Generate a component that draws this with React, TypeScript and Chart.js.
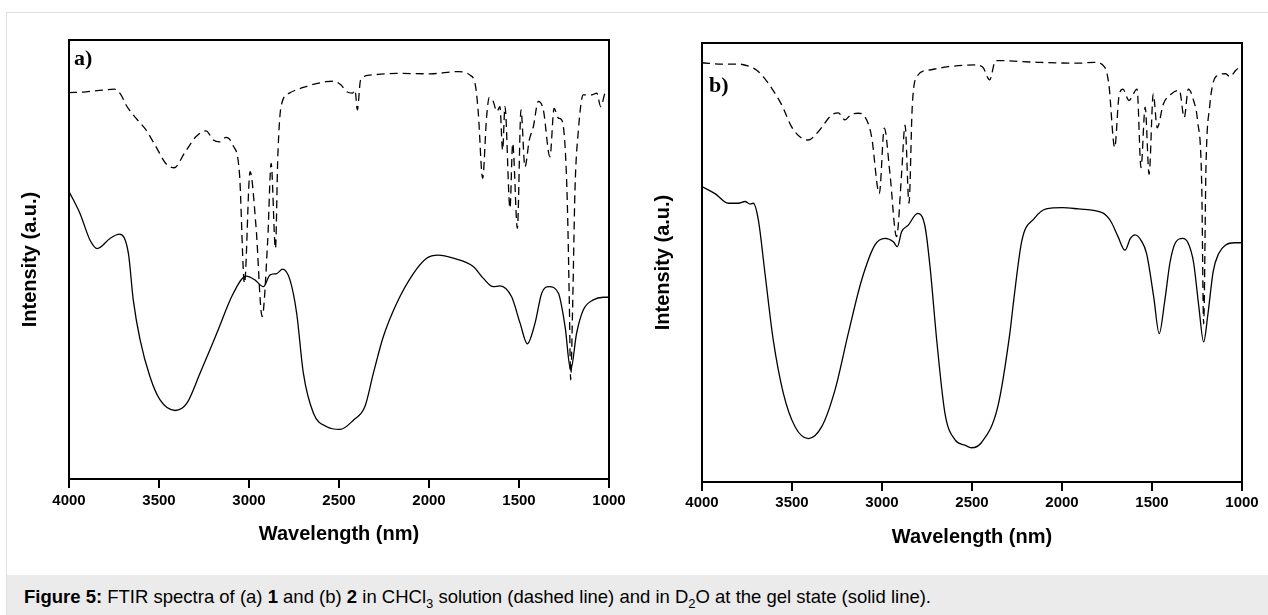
import React, { useEffect, useRef } from "react";
import { Chart, registerables } from "chart.js";

Chart.register(...registerables);

// ---------- data ----------
const xTicks = [4000, 3500, 3000, 2500, 2000, 1500, 1000];

// Panel a) dashed (CHCl3 solution)
const aDashX = [4000, 3906, 3813, 3748, 3711, 3683, 3628, 3572, 3517, 3461, 3415, 3359, 3294, 3239, 3198, 3164, 3127, 3090, 3053, 3025, 2994, 2961, 2927, 2896, 2877, 2853, 2840, 2822, 2776, 2683, 2572, 2530, 2490, 2457, 2424, 2411, 2398, 2380, 2328, 2180, 1994, 1837, 1772, 1741, 1726, 1702, 1680, 1665, 1643, 1624, 1606, 1591, 1578, 1550, 1535, 1509, 1489, 1467, 1443, 1420, 1393, 1365, 1328, 1305, 1281, 1263, 1244, 1231, 1220, 1213, 1202, 1189, 1170, 1143, 1096, 1068, 1046, 1022, 1000];
const aDashY = [88.0, 88.2, 88.6, 88.8, 87.5, 85.2, 82.2, 79.5, 75.7, 71.8, 70.9, 74.2, 78.0, 79.3, 77.2, 76.8, 77.8, 76.1, 69.6, 44.6, 70.0, 57.5, 37.0, 54.4, 71.9, 52.5, 73.4, 84.8, 87.9, 89.4, 90.5, 90.6, 89.8, 88.2, 87.9, 88.6, 84.1, 90.9, 92.0, 92.4, 92.3, 92.8, 92.0, 89.4, 83.3, 68.5, 82.5, 86.9, 86.0, 83.7, 84.8, 74.9, 84.8, 61.7, 76.5, 57.1, 84.1, 71.1, 77.2, 80.3, 86.0, 84.1, 73.4, 84.4, 82.2, 81.8, 75.7, 62.0, 39.3, 22.6, 39.3, 65.8, 79.5, 87.5, 87.5, 87.9, 84.8, 87.9, 88.6];

// Panel a) solid (D2O gel)
const aSolidX = [4000, 3939, 3883, 3843, 3772, 3720, 3670, 3643, 3605, 3550, 3494, 3411, 3346, 3272, 3179, 3087, 3016, 2966, 2920, 2883, 2846, 2813, 2772, 2735, 2698, 2642, 2568, 2494, 2420, 2356, 2309, 2254, 2180, 2087, 2013, 1948, 1865, 1754, 1698, 1643, 1606, 1541, 1494, 1454, 1411, 1374, 1333, 1281, 1244, 1213, 1180, 1143, 1087, 1031, 1000];
const aSolidY = [65.5, 60.5, 54.4, 52.5, 54.8, 55.8, 51.4, 40.8, 31.7, 23.3, 18.0, 15.6, 17.2, 24.1, 33.2, 42.3, 46.2, 45.3, 43.8, 46.5, 46.8, 47.8, 45.3, 37.7, 24.1, 15.0, 11.9, 11.3, 13.4, 16.5, 24.1, 32.4, 40.0, 46.8, 50.3, 51.0, 50.3, 48.4, 45.7, 43.8, 44.0, 41.5, 35.5, 30.8, 35.5, 42.3, 43.8, 42.3, 34.7, 24.8, 33.2, 38.5, 40.8, 41.4, 41.4];

// Panel b) dashed (CHCl3 solution)
const bDashX = [4000, 3891, 3798, 3733, 3696, 3659, 3613, 3557, 3502, 3446, 3409, 3354, 3280, 3243, 3206, 3169, 3132, 3095, 3058, 3015, 2987, 2956, 2919, 2891, 2872, 2850, 2832, 2807, 2743, 2632, 2483, 2440, 2402, 2369, 2133, 1909, 1819, 1763, 1740, 1707, 1684, 1662, 1628, 1583, 1561, 1538, 1516, 1493, 1471, 1437, 1393, 1348, 1321, 1298, 1269, 1247, 1224, 1213, 1200, 1180, 1146, 1090, 1068, 1034, 1000];
const bDashY = [95.5, 95.2, 95.2, 94.6, 93.8, 92.3, 89.7, 85.9, 80.9, 78.3, 77.9, 79.8, 83.6, 84.1, 82.5, 83.8, 84.0, 83.2, 78.7, 65.7, 80.6, 70.3, 55.9, 70.3, 81.3, 63.5, 85.5, 92.3, 93.8, 94.6, 95.0, 94.5, 91.6, 96.0, 95.6, 95.4, 95.6, 94.5, 90.7, 76.2, 87.7, 89.5, 86.9, 89.5, 71.6, 85.4, 70.1, 88.4, 80.7, 86.1, 88.4, 89.2, 83.0, 89.5, 86.9, 82.3, 68.0, 36.0, 72.0, 85.4, 92.3, 93.0, 92.3, 93.8, 95.0];

// Panel b) solid (D2O gel)
const bSolidX = [4000, 3928, 3854, 3798, 3761, 3733, 3715, 3687, 3650, 3604, 3548, 3483, 3409, 3335, 3261, 3187, 3113, 3039, 2983, 2937, 2915, 2891, 2854, 2802, 2761, 2733, 2696, 2650, 2594, 2539, 2503, 2447, 2357, 2290, 2268, 2223, 2155, 2088, 1998, 1909, 1774, 1729, 1690, 1650, 1620, 1594, 1560, 1530, 1490, 1460, 1430, 1400, 1370, 1330, 1300, 1269, 1240, 1213, 1190, 1160, 1130, 1090, 1040, 1000];
const bSolidY = [67.3, 65.7, 63.5, 63.5, 63.9, 63.3, 63.5, 59.7, 47.5, 32.3, 20.2, 12.6, 9.9, 12.6, 21.0, 33.9, 46.0, 54.0, 55.5, 54.7, 53.6, 57.0, 58.5, 61.2, 58.2, 49.0, 32.3, 15.6, 9.6, 8.4, 7.8, 9.0, 17.1, 33.8, 41.5, 55.0, 60.0, 62.2, 62.5, 62.2, 61.3, 59.4, 56.0, 52.8, 55.5, 56.3, 55.0, 52.0, 42.0, 33.8, 41.0, 50.0, 54.5, 55.5, 54.5, 50.0, 40.0, 31.9, 38.0, 48.0, 52.0, 54.0, 54.5, 54.5];

const SANS = '"Liberation Sans", Arial, sans-serif';
const SERIF = '"Liberation Serif", "Times New Roman", serif';

type Layout = {
  padTop: number;
  padRight: number;
  yWidth: number;
  xHeight: number;
  yTitlePad: number;
  xTitlePad: number;
  tickPad: number;
  labelDX: number;
  labelDY: number;
};

function toPoints(xs: number[], ys: number[]) {
  return xs.map((x, i) => ({ x, y: ys[i] }));
}

function Spectrum(props: {
  dashX: number[];
  dashY: number[];
  solidX: number[];
  solidY: number[];
  label: string;
  layout: Layout;
}) {
  const ref = useRef<HTMLCanvasElement | null>(null);
  useEffect(() => {
    const L = props.layout;
    const framePlugin = {
      id: "frame",
      afterDraw(chart: any) {
        const { ctx, chartArea } = chart;
        ctx.save();
        ctx.strokeStyle = "#000";
        ctx.lineWidth = 2;
        ctx.strokeRect(chartArea.left, chartArea.top, chartArea.right - chartArea.left, chartArea.bottom - chartArea.top);
        ctx.fillStyle = "#000";
        ctx.font = `bold 22px ${SERIF}`;
        ctx.textBaseline = "alphabetic";
        ctx.textAlign = "left";
        ctx.fillText(props.label, chartArea.left + L.labelDX, chartArea.top + L.labelDY);
        ctx.restore();
      },
    };
    const chart = new Chart(ref.current as HTMLCanvasElement, {
      type: "line",
      data: {
        datasets: [
          {
            data: toPoints(props.dashX, props.dashY),
            borderColor: "#000",
            borderWidth: 1.3,
            borderDash: [8, 5],
            pointRadius: 0,
            fill: false,
            cubicInterpolationMode: "monotone",
          },
          {
            data: toPoints(props.solidX, props.solidY),
            borderColor: "#000",
            borderWidth: 1.3,
            pointRadius: 0,
            fill: false,
            cubicInterpolationMode: "monotone",
          },
        ],
      },
      options: {
        animation: false,
        responsive: false,
        events: [],
        layout: { padding: { top: L.padTop, right: L.padRight, left: 0, bottom: 0 } },
        plugins: { legend: { display: false }, tooltip: { enabled: false } },
        scales: {
          x: {
            type: "linear",
            min: 1000,
            max: 4000,
            reverse: true,
            afterBuildTicks: (scale: any) => {
              scale.ticks = xTicks.map((v) => ({ value: v }));
            },
            ticks: {
              autoSkip: false,
              maxRotation: 0,
              color: "#000",
              padding: L.tickPad,
              font: { family: SANS, size: 15, weight: "bold" },
              callback: (v: any) => String(v),
            },
            grid: {
              display: true,
              drawOnChartArea: false,
              drawTicks: true,
              tickLength: 9,
              color: "#000",
              lineWidth: 2,
            },
            border: { display: true, color: "#000", width: 2 },
            title: {
              display: true,
              text: "Wavelength (nm)",
              color: "#000",
              font: { family: SANS, size: 20, weight: "bold" },
              padding: { top: 0, bottom: L.xTitlePad },
            },
            afterFit: (scale: any) => {
              scale.height = L.xHeight;
            },
          },
          y: {
            min: 0,
            max: 100,
            ticks: { display: false },
            grid: { display: false },
            border: { display: true, color: "#000", width: 2 },
            title: {
              display: true,
              text: "Intensity (a.u.)",
              color: "#000",
              font: { family: SANS, size: 20, weight: "bold" },
              padding: { top: L.yTitlePad, bottom: 0 },
            },
            afterFit: (scale: any) => {
              scale.width = L.yWidth;
            },
          },
        },
      } as any,
      plugins: [framePlugin],
    } as any);
    return () => chart.destroy();
  }, []);
  return <canvas ref={ref} width={634} height={575} style={{ display: "block", width: 634, height: 575 }} />;
}

const layoutA: Layout = {
  padTop: 40,
  padRight: 25,
  yWidth: 69,
  xHeight: 96,
  yTitlePad: 18,
  xTitlePad: 29,
  tickPad: 4,
  labelDX: 5,
  labelDY: 25,
};

const layoutB: Layout = {
  padTop: 43,
  padRight: 26,
  yWidth: 68,
  xHeight: 93,
  yTitlePad: 17,
  xTitlePad: 26,
  tickPad: 3,
  labelDX: 7,
  labelDY: 49,
};

export default function App() {
  return (
    <div
      style={{
        position: "absolute",
        left: 0,
        top: 0,
        width: 1268,
        height: 615,
        background: "#fff",
        overflow: "hidden",
        fontFamily: SANS,
      }}
    >
      <div
        style={{
          position: "absolute",
          left: 6,
          top: 12,
          width: 1300,
          height: 700,
          border: "1px solid #e1e1e1",
          boxSizing: "border-box",
        }}
      />
      <div style={{ position: "absolute", left: 0, top: 0 }}>
        <Spectrum dashX={aDashX} dashY={aDashY} solidX={aSolidX} solidY={aSolidY} label="a)" layout={layoutA} />
      </div>
      <div style={{ position: "absolute", left: 634, top: 0 }}>
        <Spectrum dashX={bDashX} dashY={bDashY} solidX={bSolidX} solidY={bSolidY} label="b)" layout={layoutB} />
      </div>
      <div
        style={{
          position: "absolute",
          left: 7,
          top: 575,
          width: 1261,
          height: 40,
          background: "#ebebeb",
          color: "#000",
          fontSize: 18.5,
          lineHeight: "22px",
          paddingTop: 11,
          paddingLeft: 17,
          boxSizing: "border-box",
          whiteSpace: "nowrap",
        }}
      >
        <b>Figure 5:</b> FTIR spectra of (a) <b>1</b> and (b) <b>2</b> in CHCl<sub style={{ fontSize: 13, lineHeight: 0 }}>3</sub> solution (dashed line) and in D<sub style={{ fontSize: 13, lineHeight: 0 }}>2</sub>O at the gel state (solid line).
      </div>
    </div>
  );
}
